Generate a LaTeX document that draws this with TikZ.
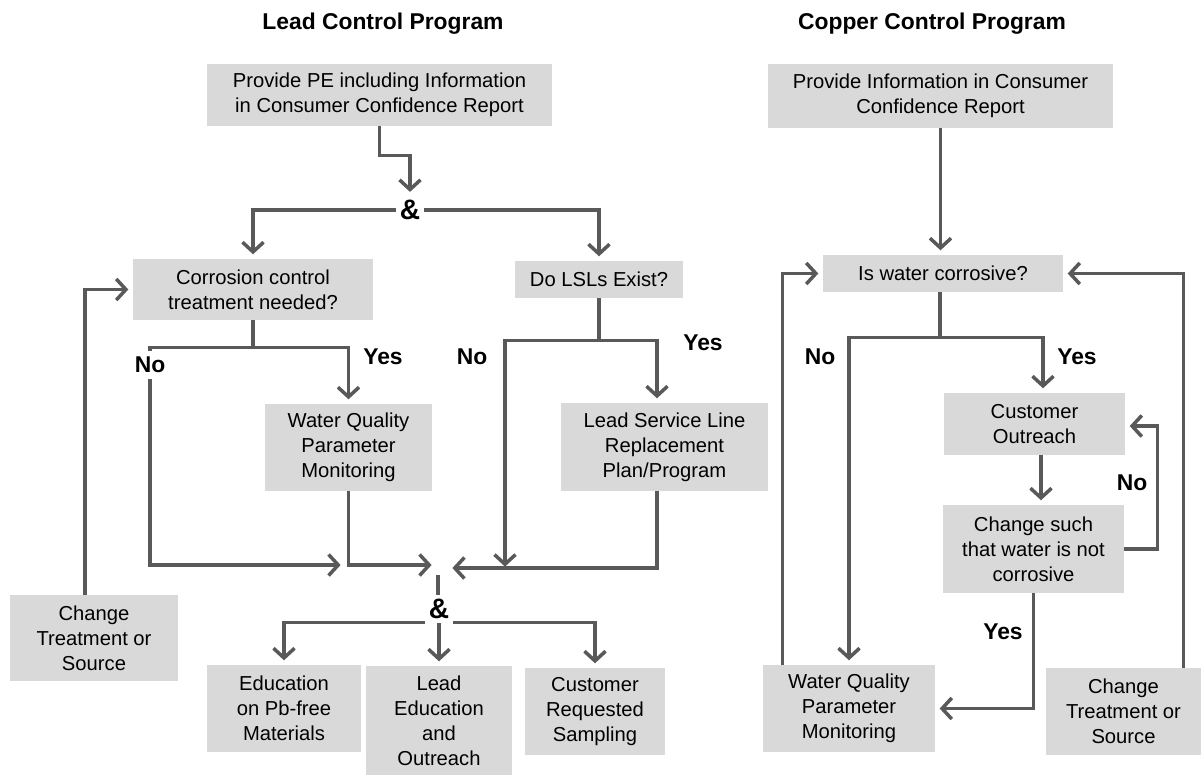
\documentclass[tikz,border=0pt]{standalone}
\usepackage{fontspec}
\setmainfont{Liberation Sans}
\usetikzlibrary{arrows.meta}
\definecolor{boxgray}{RGB}{217,217,217}
\definecolor{linegray}{RGB}{89,89,89}
\tikzstyle{block} = [rectangle, fill=boxgray, align=center, inner sep=0pt, font=\fontsize{11.5}{14.3}\selectfont]
\tikzstyle{link} = [line width=2pt, draw=linegray]
\tikzstyle{arrow} = [link, -{Straight Barb[length=5.5pt,width=12pt]}, shorten >=2.5pt]
\tikzstyle{lbl} = [font=\bfseries\fontsize{13}{15}\selectfont]
\tikzstyle{amp} = [font=\bfseries\fontsize{16}{18}\selectfont, inner sep=2pt]
\tikzstyle{heading} = [font=\bfseries\fontsize{13}{15}\selectfont]
\begin{document}
\begin{tikzpicture}[x=0.02cm, y=-0.02cm]
                \useasboundingbox (0,0) rectangle (1201,775);
                % lead side
                \node (leadtitle) [heading] at (383,24) {Lead Control Program};
                \node (pe) [block, minimum width=6.9cm, minimum height=1.24cm] at (379.5,95) {Provide PE including Information\\in Consumer Confidence Report};
                \node (andtop) [amp] at (410,210) {\&};
                \node (cct) [block, minimum width=4.8cm, minimum height=1.22cm] at (253,289.5) {Corrosion control\\treatment needed?};
                \node (lsl) [block, minimum width=3.36cm, minimum height=0.74cm] at (599,279.5) {Do LSLs Exist?};
                \node (wqpa) [block, minimum width=3.34cm, minimum height=1.74cm] at (348.5,447.5) {Water Quality\\Parameter\\Monitoring};
                \node (lslr) [block, minimum width=4.14cm, minimum height=1.76cm] at (664.5,447) {Lead Service Line\\Replacement\\Plan/Program};
                \node (ctsa) [block, minimum width=3.36cm, minimum height=1.72cm] at (94,638) {Change\\Treatment or\\Source};
                \node (andbot) [amp] at (439,609) {\&};
                \node (edu) [block, minimum width=3.08cm, minimum height=1.74cm] at (284,708.5) {Education\\on Pb-free\\Materials};
                \node (lead) [block, minimum width=2.92cm, minimum height=2.18cm] at (439,720.5) {Lead\\Education\\and\\Outreach};
                \node (crs) [block, minimum width=2.8cm, minimum height=1.74cm] at (595,711.5) {Customer\\Requested\\Sampling};
                \node (yesa) [lbl] at (383,357) {Yes};
                \node (noa) [lbl] at (150,365) {No};
                \node (nob) [lbl] at (472,357) {No};
                \node (yesb) [lbl] at (703,343) {Yes};
                \coordinate (tipa) at (345,565);
                \coordinate (tipb) at (436,565);
                \coordinate (tipc) at (448,568);
                \coordinate (tipd) at (505,571);
                \coordinate (merge) at (438,575);

                \draw [arrow] (pe.south) -- ++(0,29) -| (andtop.north);
                \draw [arrow] (andtop.west) -| (cct.north);
                \draw [arrow] (andtop.east) -| (lsl.north);
                \draw [link] (cct.south) -- ++(0,27) coordinate (cctfork);
                \draw [link] (cctfork) -| (noa.north);
                \draw [arrow] (cctfork) -| (wqpa.north);
                \draw [arrow] (noa.south) |- (tipa);
                \draw [arrow] (wqpa.south) |- (tipb);
                \draw [link] (lsl.south) -- ++(0,42) coordinate (lslfork);
                \draw [arrow] (lslfork) -| (tipd);
                \draw [arrow] (lslfork) -| ([xshift=-0.15cm]lslr.north);
                \draw [arrow] ([xshift=-0.15cm]lslr.south) |- (tipc);
                \draw [link] (merge) -- (merge |- andbot.north);
                \draw [arrow] (andbot.south west) -| (edu.north);
                \draw [arrow] (andbot.south) -- (lead.north);
                \draw [arrow] (andbot.south east) -| (crs.north);
                \draw [arrow] ([xshift=-0.18cm]ctsa.north) |- (cct.west);

                % copper side
                \node (coppertitle) [heading] at (932,24) {Copper Control Program};
                \node (ccr) [block, minimum width=6.9cm, minimum height=1.28cm] at (940.5,96) {Provide Information in Consumer\\Confidence Report};
                \node (iwc) [block, minimum width=4.8cm, minimum height=0.74cm] at (943,273.5) {Is water corrosive?};
                \node (co) [block, minimum width=3.62cm, minimum height=1.24cm] at (1034.5,424) {Customer\\Outreach};
                \node (chg) [block, minimum width=3.62cm, minimum height=1.76cm] at (1033.5,549) {Change such\\that water is not\\corrosive};
                \node (wqpb) [block, minimum width=3.44cm, minimum height=1.74cm] at (849,708.5) {Water Quality\\Parameter\\Monitoring};
                \node (ctsb) [block, minimum width=3.1cm, minimum height=1.74cm] at (1123.5,711.5) {Change\\Treatment or\\Source};
                \node (noc) [lbl] at (820,357) {No};
                \node (yesc) [lbl] at (1077,357) {Yes};
                \node (nod) [lbl] at (1132,483) {No};
                \node (yesd) [lbl] at (1003,632) {Yes};

                \draw [arrow] (ccr.south) -- (ccr.south |- iwc.north);
                \draw [link] ([xshift=-0.06cm]iwc.south) -- ++(0,45) coordinate (iwcfork);
                \draw [arrow] (iwcfork) -| ([xshift=0.17cm]co.north);
                \draw [arrow] (iwcfork) -| (wqpb.north);
                \draw [arrow] ([xshift=0.13cm]co.south) -- ([xshift=0.13cm]co.south |- chg.north);
                \draw [arrow] (chg.east) -- ++(33,0) |- ([yshift=-0.04cm]co.east);
                \draw [arrow] (chg.south) |- (wqpb.east);
                \draw [arrow] ([xshift=0.4cm]wqpb.north west) |- (iwc.west);
                \draw [arrow] ([xshift=1.2cm]ctsb.north) |- (iwc.east);
            \end{tikzpicture}
\end{document}
